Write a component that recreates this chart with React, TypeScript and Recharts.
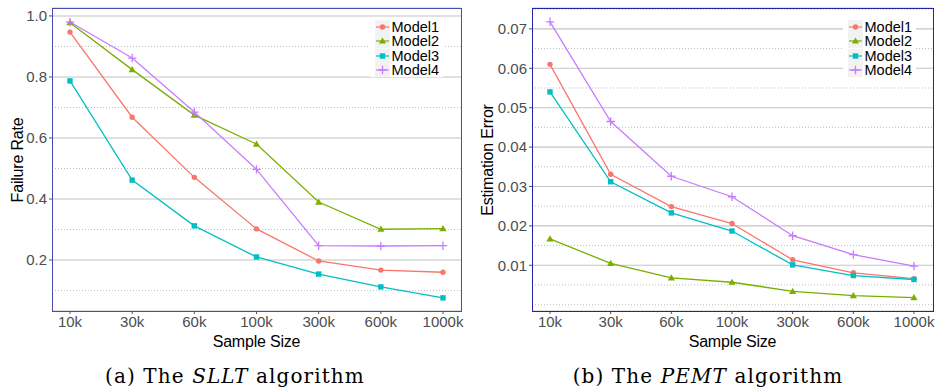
import { CartesianGrid, Legend, Line, LineChart, ReferenceLine, XAxis, YAxis } from 'recharts'

const sampleSizes = ['10k', '30k', '60k', '100k', '300k', '600k', '1000k']
const models = ['Model1', 'Model2', 'Model3', 'Model4']
const colors = ['#F8766D', '#7CAE00', '#00BFC4', '#C77CFF']

// (a) SLLT - failure rate
const slltModel1 = [0.947, 0.668, 0.471, 0.302, 0.197, 0.167, 0.16]
const slltModel2 = [0.978, 0.824, 0.675, 0.58, 0.39, 0.301, 0.303]
const slltModel3 = [0.787, 0.462, 0.312, 0.21, 0.154, 0.112, 0.076]
const slltModel4 = [0.98, 0.862, 0.685, 0.497, 0.247, 0.246, 0.247]
const slltTicks = [0.2, 0.4, 0.6, 0.8, 1.0]
const slltMinor = [0.1, 0.3, 0.5, 0.7, 0.9]

// (b) PEMT - estimation error
const pemtModel1 = [0.061, 0.0331, 0.0249, 0.0206, 0.0114, 0.0081, 0.0066]
const pemtModel2 = [0.0167, 0.0105, 0.0068, 0.0057, 0.0034, 0.0023, 0.0018]
const pemtModel3 = [0.054, 0.0312, 0.0233, 0.0187, 0.0101, 0.0074, 0.0064]
const pemtModel4 = [0.0718, 0.0465, 0.0326, 0.0274, 0.0175, 0.0127, 0.0098]
const pemtTicks = [0.01, 0.02, 0.03, 0.04, 0.05, 0.06, 0.07]
const pemtMinor = [0, 0.005, 0.015, 0.025, 0.035, 0.045, 0.055, 0.065, 0.075]

const sans = '"Liberation Sans", Arial, sans-serif'
const tickStyle = { fill: '#4d4d4d', fontSize: 15, fontFamily: sans }

function buildRows(series: number[][]) {
  return sampleSizes.map((s, i) => {
    const row: Record<string, string | number> = { size: s }
    models.forEach((m, k) => {
      row[m] = series[k][i]
    })
    return row
  })
}

const slltData = buildRows([slltModel1, slltModel2, slltModel3, slltModel4])
const pemtData = buildRows([pemtModel1, pemtModel2, pemtModel3, pemtModel4])

function Marker({ kind, cx, cy, color }: { kind: number; cx?: number; cy?: number; color: string }) {
  if (cx == null || cy == null) return null
  if (kind === 0) return <circle cx={cx} cy={cy} r={2.7} fill={color} />
  if (kind === 1)
    return <polygon points={`${cx},${cy - 3.6} ${cx + 3.6},${cy + 2.6} ${cx - 3.6},${cy + 2.6}`} fill={color} />
  if (kind === 2) return <rect x={cx - 2.7} y={cy - 2.7} width={5.4} height={5.4} fill={color} />
  return <path d={`M${cx - 4.2},${cy}H${cx + 4.2}M${cx},${cy - 4.2}V${cy + 4.2}`} stroke={color} strokeWidth={1.3} />
}

function LegendBox({ padLeft }: { padLeft: number }) {
  return (
    <div style={{ background: '#fff', padding: `0 4px 0 ${padLeft}px`, fontFamily: sans, fontSize: 14.5 }}>
      {models.map((m, i) => (
        <div key={m} style={{ display: 'flex', alignItems: 'center', height: 14.3, lineHeight: '14.3px' }}>
          <svg width={15} height={14} style={{ background: '#f2f2f2', display: 'block' }}>
            <line x1={1} x2={14} y1={7} y2={7} stroke={colors[i]} strokeWidth={1.2} />
            <Marker kind={i} cx={7.5} cy={7} color={colors[i]} />
          </svg>
          <span style={{ marginLeft: 1.5, color: '#000' }}>{m}</span>
        </div>
      ))}
    </div>
  )
}

type PanelProps = {
  data: Record<string, string | number>[]
  left: number
  yWidth: number
  marginRight: number
  domain: [number, number]
  ticks: number[]
  minor: number[]
  digits: number
  yTitle: string
  titleX: number
  padX: { left: number; right: number }
  legendLeft: number
  legendPad: number
  border: string
}

function Panel(p: PanelProps) {
  const width = 469
  const height = 350
  const plotLeft = p.yWidth
  const plotRight = width - p.marginRight
  return (
    <div style={{ position: 'absolute', left: p.left, top: 0, width, height }}>
      <LineChart
        width={width}
        height={height}
        data={p.data}
        margin={{ top: 8, right: p.marginRight, left: 0, bottom: 0 }}
      >
        <CartesianGrid vertical={false} stroke="#c4c4c4" strokeWidth={1.1} />
        {p.minor.map((v) => (
          <ReferenceLine key={v} y={v} stroke="#bdbdbd" strokeDasharray="1 2" strokeWidth={1} ifOverflow="hidden" />
        ))}
        <XAxis
          dataKey="size"
          height={39}
          padding={p.padX}
          axisLine={false}
          tickLine={{ stroke: '#555' }}
          tickSize={3}
          tickMargin={2}
          tick={tickStyle}
          interval={0}
          label={{
            content: () => (
              <text
                x={(plotLeft + plotRight) / 2}
                y={347}
                textAnchor="middle"
                fontFamily={sans}
                fontSize={16}
                fill="#000"
                style={{ letterSpacing: '-0.2px' }}
              >
                Sample Size
              </text>
            ),
          }}
        />
        <YAxis
          width={p.yWidth}
          type="number"
          domain={p.domain}
          allowDataOverflow
          ticks={p.ticks}
          interval={0}
          axisLine={false}
          tickLine={{ stroke: '#555' }}
          tickSize={3}
          tickMargin={2}
          tick={tickStyle}
          tickFormatter={(v: number) => v.toFixed(p.digits)}
          label={{
            content: () => (
              <text
                x={p.titleX}
                y={160}
                transform={`rotate(-90 ${p.titleX} 160)`}
                textAnchor="middle"
                dominantBaseline="central"
                fontFamily={sans}
                fontSize={16}
                fill="#000"
                style={{ letterSpacing: '-0.2px' }}
              >
                {p.yTitle}
              </text>
            ),
          }}
        />
        <Legend
          layout="horizontal"
          align="center"
          verticalAlign="middle"
          wrapperStyle={{ left: p.legendLeft, top: 20, width: 'auto', margin: 0, padding: 0 }}
          content={() => <LegendBox padLeft={p.legendPad} />}
        />
        {models.map((m, i) => (
          <Line
            key={m}
            dataKey={m}
            stroke={colors[i]}
            strokeWidth={1.3}
            isAnimationActive={false}
            dot={(d: { cx?: number; cy?: number; index?: number }) => (
              <Marker key={`${m}-${d.index}`} kind={i} cx={d.cx} cy={d.cy} color={colors[i]} />
            )}
            activeDot={false}
          />
        ))}
      </LineChart>
      <div
        style={{
          position: 'absolute',
          left: plotLeft,
          top: 8,
          width: plotRight - plotLeft + 1,
          height: 304,
          border: `1px solid ${p.border}`,
          boxSizing: 'border-box',
          pointerEvents: 'none',
        }}
      />
    </div>
  )
}

export default function App() {
  const serif = '"DejaVu Serif", "Liberation Serif", serif'
  return (
    <div style={{ position: 'absolute', left: 0, top: 0, width: 938, height: 391, background: '#fff', overflow: 'hidden' }}>
      <Panel
        data={slltData}
        left={0}
        yWidth={52}
        marginRight={8}
        domain={[0.033, 1.026]}
        ticks={slltTicks}
        minor={slltMinor}
        digits={1}
        yTitle="Failure Rate"
        titleX={17}
        padX={{ left: 18, right: 18 }}
        legendLeft={370}
        legendPad={5}
        border="#4a4ab4"
      />
      <Panel
        data={pemtData}
        left={469}
        yWidth={63}
        marginRight={5}
        domain={[-0.0016, 0.0753]}
        ticks={pemtTicks}
        minor={pemtMinor}
        digits={2}
        yTitle="Estimation Error"
        titleX={18}
        padX={{ left: 18, right: 19 }}
        legendLeft={374}
        legendPad={5}
        border="#2424a8"
      />
      <svg width={938} height={391} style={{ position: 'absolute', left: 0, top: 0, pointerEvents: 'none' }}>
        <text x={235} y={383} textAnchor="middle" fontFamily={serif} fontSize={20} fill="#000" style={{ letterSpacing: '1.1px' }}>
          (a) The <tspan fontStyle="italic">SLLT</tspan> algorithm
        </text>
        <text x={708} y={383} textAnchor="middle" fontFamily={serif} fontSize={20} fill="#000" style={{ letterSpacing: '1.1px' }}>
          (b) The <tspan fontStyle="italic">PEMT</tspan> algorithm
        </text>
      </svg>
    </div>
  )
}
